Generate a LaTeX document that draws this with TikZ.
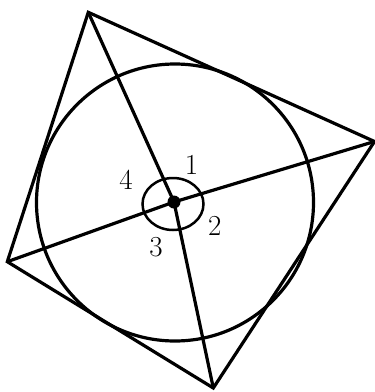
\documentclass[tikz,border=0pt]{standalone}
\begin{document}
\begin{tikzpicture}[x=1pt,y=-1pt,
  edge/.style={line width=3.2pt,line join=miter},
  anglemark/.style={line width=2.5pt},
  numlabel/.style={font=\fontsize{29}{31}\selectfont,inner sep=0pt}]
\useasboundingbox (0,0) rectangle (375,392);
\coordinate (A) at (88.3,12.3);
\coordinate (B) at (374.5,141.5);
\coordinate (C) at (213.3,388);
\coordinate (D) at (7.3,261.7);
\coordinate (O) at (174,202);
% incircle
\draw[edge] (175,202.5) circle[radius=138.5];
% quadrilateral
\draw[edge] (A) -- (B) -- (C) -- (D) -- cycle;
% segments from the centre to the vertices
\draw[edge] (O) -- (A);
\draw[edge] (O) -- (B);
\draw[edge] (O) -- (C);
\draw[edge] (O) -- (D);
% angle mark
\draw[anglemark] (173,204) ellipse[x radius=30.5,y radius=26];
\fill (O) circle[radius=6.5];
% labels
\node[numlabel] (l1) at (191.5,164.7) {1};
\node[numlabel] (l2) at (214.7,226) {2};
\node[numlabel] (l3) at (156,247) {3};
\node[numlabel] (l4) at (126,179.5) {4};
\end{tikzpicture}
\end{document}
